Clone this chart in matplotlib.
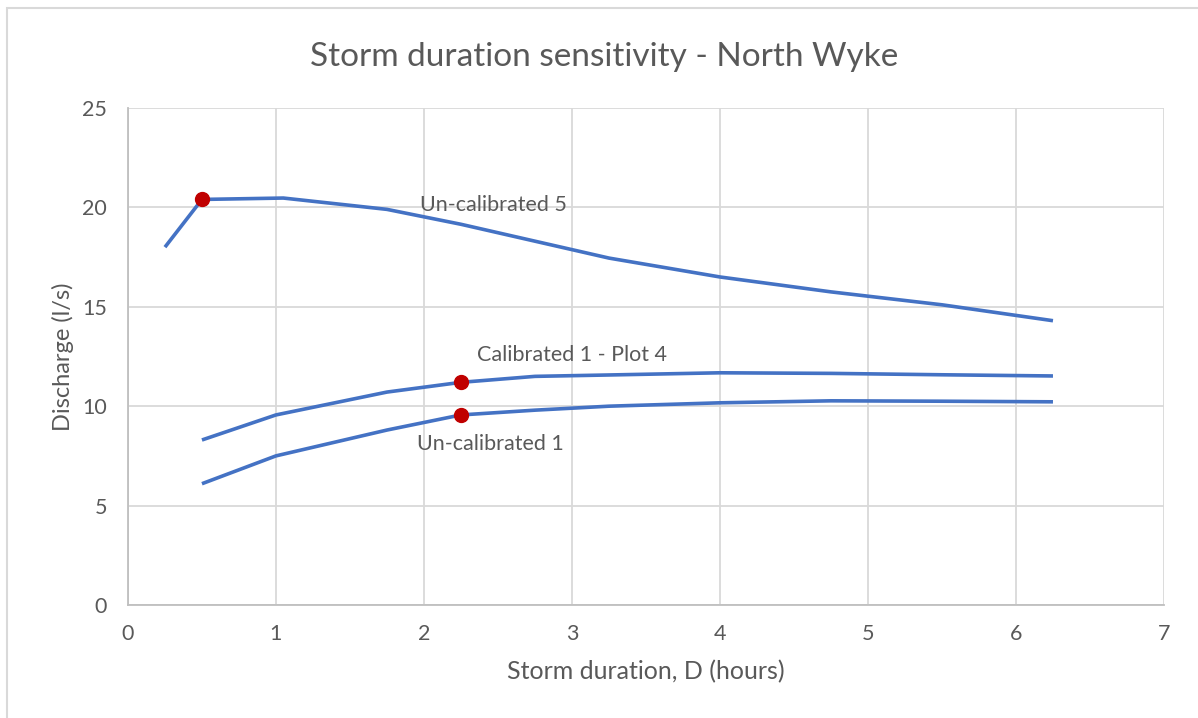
import matplotlib.pyplot as plt
from matplotlib.patches import Rectangle

# Storm durations (hours) and peak discharge (l/s) for each model run
uncal5_duration = [0.25, 0.5, 1.05, 1.75, 2.25, 2.75, 3.25, 4.0, 4.75, 5.5, 6.25]
uncal5_discharge = [18.0, 20.4, 20.47, 19.9, 19.15, 18.3, 17.45, 16.5, 15.75, 15.1, 14.3]

cal1_duration = [0.5, 1.0, 1.75, 2.25, 2.75, 3.25, 4.0, 4.75, 5.5, 6.25]
cal1_discharge = [8.3, 9.56, 10.71, 11.2, 11.5, 11.57, 11.68, 11.65, 11.58, 11.52]

uncal1_duration = [0.5, 1.0, 1.75, 2.25, 2.75, 3.25, 4.0, 4.75, 5.5, 6.25]
uncal1_discharge = [6.1, 7.5, 8.8, 9.56, 9.8, 10.0, 10.17, 10.27, 10.25, 10.22]

# Highlighted points (critical storm duration)
critical_duration = [0.5, 2.25, 2.25]
critical_discharge = [20.4, 11.2, 9.56]

series_labels = ["Un-calibrated 5", "Calibrated 1 - Plot 4", "Un-calibrated 1"]
label_pos = [(1.97, 20.1), (2.36, 12.55), (1.95, 8.1)]

plt.rcParams['font.family'] = ['Lato', 'DejaVu Sans']
text_col = '#595959'
grid_col = '#d9d9d9'
line_col = '#4472c4'

fig = plt.figure(figsize=(11.98, 7.18), dpi=100)
ax = fig.add_axes([0.1068, 0.1574, 0.8648, 0.6922])

# chart frame (left and top edges)
fig.add_artist(Rectangle((0.006, -0.1), 1.2, 1.089, transform=fig.transFigure,
                         fill=False, edgecolor=grid_col, linewidth=1.5))

for xs, ys in [(uncal5_duration, uncal5_discharge),
               (cal1_duration, cal1_discharge),
               (uncal1_duration, uncal1_discharge)]:
    ax.plot(xs, ys, color=line_col, linewidth=2.6, solid_capstyle='butt', zorder=3)

ax.plot(critical_duration, critical_discharge, 'o', color='#c00000',
        markersize=10, zorder=4)

for lab, (lx, ly) in zip(series_labels, label_pos):
    ax.text(lx, ly, lab, fontsize=15.5, color=text_col, va='center', ha='left', zorder=5)

ax.set_xlim(0, 7)
ax.set_ylim(0, 25)
ax.set_xticks(range(0, 8))
ax.set_yticks(range(0, 26, 5))
ax.grid(True, color=grid_col, linewidth=1.3)
ax.set_axisbelow(True)
for side in ['top', 'right']:
    ax.spines[side].set_visible(False)
for side in ['left', 'bottom']:
    ax.spines[side].set_color('#bfbfbf')
    ax.spines[side].set_linewidth(1.3)
ax.tick_params(length=0, labelsize=15.5, labelcolor=text_col, pad=14)
ax.tick_params(axis='y', pad=15)

# title sits centred on the whole chart, not on the plot area
ax.set_title("Storm duration sensitivity - North Wyke", fontsize=24,
             color=text_col, pad=30, x=0.4595)
ax.set_xlabel("Storm duration, D (hours)", fontsize=18, color=text_col, labelpad=11)
ax.set_ylabel("Discharge (l/s)", fontsize=17, color=text_col, labelpad=6)

fig.savefig("out.png", dpi=100)
